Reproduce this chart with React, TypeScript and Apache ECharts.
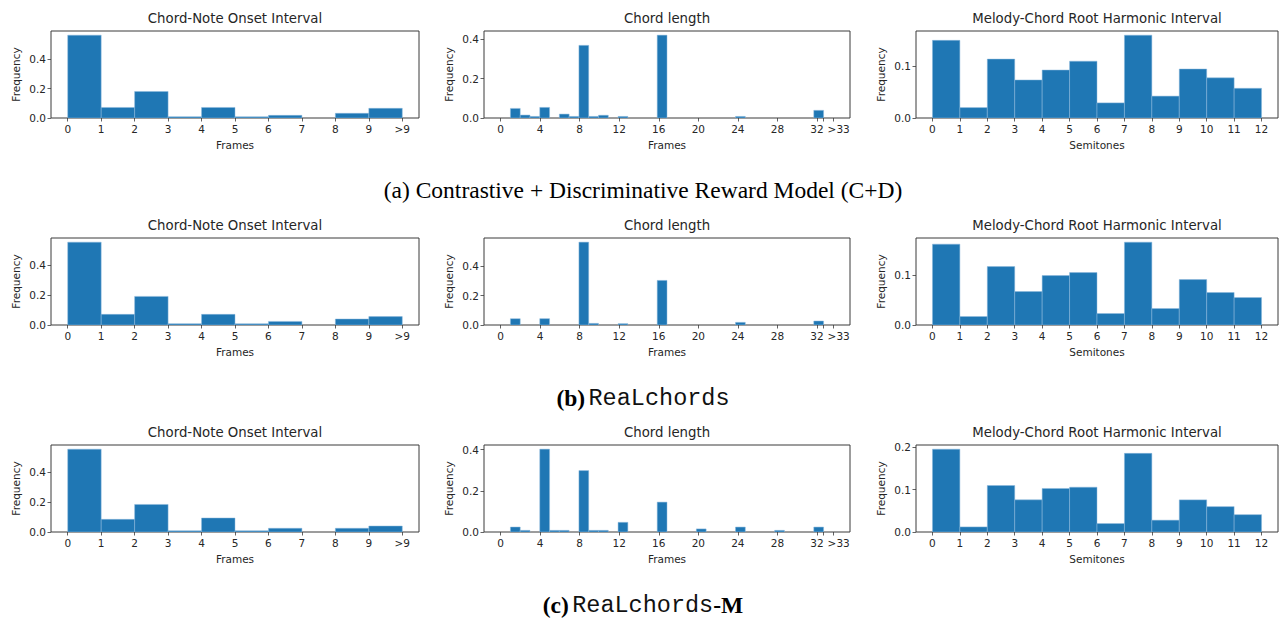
import React, { useEffect, useRef } from "react";
import * as echarts from "echarts";

// ---------------- data ----------------
const ONSET_TICKS = [0, 1, 2, 3, 4, 5, 6, 7, 8, 9, 10];
const ONSET_TICK_LABELS = ["0", "1", "2", "3", "4", "5", "6", "7", "8", "9", ">9"];
const ONSET_EDGES = [0, 1, 2, 3, 4, 5, 6, 7, 8, 9, 10];
const ONSET_A = [0.565, 0.072, 0.181, 0.009, 0.072, 0.008, 0.018, 0, 0.032, 0.066];
const ONSET_B = [0.553, 0.071, 0.191, 0.009, 0.071, 0.008, 0.024, 0, 0.04, 0.056];
const ONSET_C = [0.556, 0.085, 0.185, 0.008, 0.094, 0.008, 0.025, 0, 0.025, 0.04];

const CHORD_BIN_WIDTH = 0.99;
const CHORD_TICKS = [0, 4, 8, 12, 16, 20, 24, 28, 32, 32.67, 33.66];
const CHORD_LABEL_POS = [0, 4, 8, 12, 16, 20, 24, 28, 32, 34.2];
const CHORD_TICK_LABELS = ["0", "4", "8", "12", "16", "20", "24", "28", "32", ">33"];
// 34 bins (0 .. 33)
const CHORD_A = [
  0, 0.049, 0.015, 0.008, 0.054, 0, 0.02, 0.008, 0.37, 0.008,
  0.014, 0, 0.008, 0, 0, 0, 0.422, 0, 0, 0,
  0, 0, 0, 0, 0.008, 0, 0, 0, 0, 0,
  0, 0, 0.039, 0,
];
const CHORD_B = [
  0, 0.043, 0, 0, 0.043, 0, 0, 0, 0.563, 0.011,
  0, 0, 0.009, 0, 0, 0, 0.303, 0, 0, 0,
  0, 0, 0, 0, 0.018, 0, 0, 0, 0, 0,
  0, 0, 0.027, 0,
];
const CHORD_C = [
  0, 0.024, 0.008, 0, 0.402, 0.008, 0.008, 0, 0.298, 0.008,
  0.008, 0, 0.047, 0, 0, 0, 0.145, 0, 0, 0,
  0.015, 0, 0, 0, 0.024, 0, 0, 0, 0.008, 0,
  0, 0, 0.024, 0,
];

const MEL_TICKS = [0, 1, 2, 3, 4, 5, 6, 7, 8, 9, 10, 11, 12];
const MEL_EDGES = [0, 1, 2, 3, 4, 5, 6, 7, 8, 9, 10, 11, 12];
const MEL_A = [0.149, 0.02, 0.113, 0.073, 0.092, 0.109, 0.029, 0.159, 0.042, 0.094, 0.077, 0.057];
const MEL_B = [0.162, 0.017, 0.117, 0.067, 0.099, 0.105, 0.023, 0.166, 0.033, 0.091, 0.065, 0.055];
const MEL_C = [0.196, 0.012, 0.11, 0.076, 0.103, 0.106, 0.02, 0.186, 0.028, 0.076, 0.06, 0.041];

const TITLES = ["Chord-Note Onset Interval", "Chord length", "Melody-Chord Root Harmonic Interval"];
const X_NAMES = ["Frames", "Frames", "Semitones"];
const Y_NAME = "Frequency";

// ---------------- layout / style ----------------
const COLS = [
  { left: 51, width: 368 },
  { left: 484, width: 366 },
  { left: 916, width: 362 },
];
const ROW_TOPS = [31, 238, 445];
const BOX_H = 87;
const CAPTION_Y = [190, 398, 605];
const BAR_COLOR = "#1f77b4";
const AX_COLOR = "#3a3a3a";
const TXT_COLOR = "#262626";
const SANS = "DejaVu Sans";
const SERIF = "Liberation Serif";
const MONO = "Liberation Mono";

function chordEdges(n: number): number[] {
  const e: number[] = [];
  for (let i = 0; i <= n; i++) e.push(+(i * CHORD_BIN_WIDTH).toFixed(4));
  return e;
}

function yTicks(max: number, step: number): number[] {
  const t: number[] = [];
  for (let v = 0; v <= max + 1e-9; v += step) t.push(+v.toFixed(3));
  return t;
}

export default function App() {
  const ref = useRef<HTMLDivElement>(null);

  useEffect(() => {
    if (!ref.current) return;
    const chart = echarts.init(ref.current, null, { renderer: "svg" });

    const panels: any[] = [];
    const rows = [
      [ONSET_A, CHORD_A, MEL_A],
      [ONSET_B, CHORD_B, MEL_B],
      [ONSET_C, CHORD_C, MEL_C],
    ];
    const chordE = chordEdges(CHORD_A.length);

    rows.forEach((row, r) => {
      row.forEach((vals, c) => {
        const edges = c === 0 ? ONSET_EDGES : c === 1 ? chordE : MEL_EDGES;
        const lo = edges[0];
        const hi = edges[edges.length - 1];
        const pad = (hi - lo) * 0.05;
        const ymax = Math.max(...vals) * 1.05;
        const step = c === 2 ? 0.1 : 0.2;
        let xTickVals: number[];
        let xLabelVals: number[];
        let fmt: (v: number) => string;
        if (c === 0) {
          xTickVals = ONSET_TICKS;
          xLabelVals = ONSET_TICKS;
          fmt = (v) => ONSET_TICK_LABELS[ONSET_TICKS.indexOf(Math.round(v))] ?? "";
        } else if (c === 1) {
          xTickVals = CHORD_TICKS;
          xLabelVals = CHORD_LABEL_POS;
          fmt = (v) => {
            const i = CHORD_LABEL_POS.findIndex((p) => Math.abs(p - v) < 1e-6);
            return i >= 0 ? CHORD_TICK_LABELS[i] : "";
          };
        } else {
          xTickVals = MEL_TICKS;
          xLabelVals = MEL_TICKS;
          fmt = (v) => String(Math.round(v));
        }
        panels.push({
          r,
          c,
          data: vals.map((v, i) => [edges[i], edges[i + 1], v]),
          xmin: lo - pad,
          xmax: hi + pad,
          ymax,
          yt: yTicks(ymax, step),
          xTickVals,
          xLabelVals,
          fmt,
        });
      });
    });

    const grid = panels.map((p) => ({
      left: COLS[p.c].left,
      width: COLS[p.c].width,
      top: ROW_TOPS[p.r],
      height: BOX_H,
      show: true,
      borderColor: AX_COLOR,
      borderWidth: 1,
      backgroundColor: "transparent",
      containLabel: false,
    }));

    const xAxis = panels.map((p, i) => ({
      type: "value",
      gridIndex: i,
      position: "bottom",
      min: p.xmin,
      max: p.xmax,
      name: X_NAMES[p.c],
      nameLocation: "middle",
      nameGap: 21,
      nameTextStyle: { fontFamily: SANS, fontSize: 10.5, color: TXT_COLOR },
      axisLine: { show: false, onZero: false },
      axisTick: {
        show: true,
        inside: false,
        length: 3.5,
        customValues: p.xTickVals,
        lineStyle: { color: AX_COLOR, width: 0.8 },
      },
      axisLabel: {
        show: true,
        margin: 5,
        customValues: p.xLabelVals,
        formatter: p.fmt,
        fontFamily: SANS,
        fontSize: 10.5,
        color: TXT_COLOR,
      },
      splitLine: { show: false },
    }));

    const yAxis = panels.map((p, i) => ({
      type: "value",
      gridIndex: i,
      position: "left",
      min: 0,
      max: p.ymax,
      name: Y_NAME,
      nameLocation: "middle",
      nameGap: 30,
      nameTextStyle: { fontFamily: SANS, fontSize: 10.5, color: TXT_COLOR },
      axisLine: { show: false, onZero: false },
      axisTick: {
        show: true,
        inside: false,
        length: 3.5,
        customValues: p.yt,
        lineStyle: { color: AX_COLOR, width: 0.8 },
      },
      axisLabel: {
        show: true,
        margin: 5,
        customValues: p.yt,
        formatter: (v: number) => v.toFixed(1),
        fontFamily: SANS,
        fontSize: 10.5,
        color: TXT_COLOR,
      },
      splitLine: { show: false },
    }));

    const series = panels.map((p, i) => ({
      type: "custom",
      xAxisIndex: i,
      yAxisIndex: i,
      clip: true,
      encode: { x: [0, 1], y: 2 },
      data: p.data,
      renderItem: (params: any, api: any) => {
        const x0 = api.value(0);
        const x1 = api.value(1);
        const y = api.value(2);
        if (!y) return null;
        const a = api.coord([x0, y]);
        const b = api.coord([x1, 0]);
        return {
          type: "rect",
          shape: { x: a[0], y: a[1], width: b[0] - a[0], height: b[1] - a[1] },
          style: { fill: BAR_COLOR, stroke: "#8db9dc", lineWidth: 0.5 },
        };
      },
    }));

    const graphic: any[] = [];
    ROW_TOPS.forEach((top) => {
      COLS.forEach((col, c) => {
        graphic.push({
          type: "text",
          x: col.left + col.width / 2,
          y: top - 12.5,
          style: {
            text: TITLES[c],
            fontFamily: SANS,
            fontSize: 13.3,
            fill: TXT_COLOR,
            align: "center",
            verticalAlign: "middle",
          },
        });
      });
    });
    graphic.push({
      type: "text",
      x: 643,
      y: CAPTION_Y[0],
      style: {
        text: "(a) Contrastive + Discriminative Reward Model (C+D)",
        fontFamily: SERIF,
        fontSize: 23.5,
        fill: "#000",
        align: "center",
        verticalAlign: "middle",
      },
    });
    graphic.push({
      type: "text",
      x: 643,
      y: CAPTION_Y[1],
      style: {
        text: "{s|(b)} {m|ReaLchords}",
        align: "center",
        verticalAlign: "middle",
        rich: {
          s: { fontFamily: SERIF, fontSize: 23.5, fontWeight: "bold", fill: "#000" },
          m: { fontFamily: MONO, fontSize: 23.5, fill: "#111" },
        },
      },
    });
    graphic.push({
      type: "text",
      x: 643,
      y: CAPTION_Y[2],
      style: {
        text: "{s|(c)} {m|ReaLchords}{s|-M}",
        align: "center",
        verticalAlign: "middle",
        rich: {
          s: { fontFamily: SERIF, fontSize: 23.5, fontWeight: "bold", fill: "#000" },
          m: { fontFamily: MONO, fontSize: 23.5, fill: "#111" },
        },
      },
    });

    chart.setOption({
      animation: false,
      backgroundColor: "#ffffff",
      grid,
      xAxis,
      yAxis,
      series,
      graphic,
    });

    return () => chart.dispose();
  }, []);

  return (
    <div
      ref={ref}
      style={{ position: "absolute", left: 0, top: 0, width: 1286, height: 620, background: "#fff" }}
    />
  );
}
